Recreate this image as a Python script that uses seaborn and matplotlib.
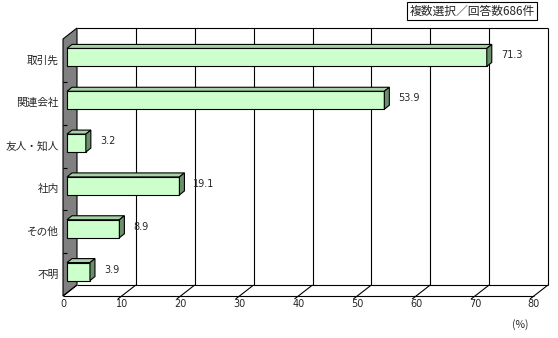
import numpy as np
import pandas as pd
import seaborn as sns
import matplotlib
matplotlib.use("Agg")
import matplotlib.pyplot as plt
from matplotlib.patches import Polygon
from matplotlib.transforms import offset_copy

categories = ['取引先', '関連会社', '友人・知人', '社内', 'その他', '不明']
values = [71.3, 53.9, 3.2, 19.1, 8.9, 3.9]
x_ticks = [0, 10, 20, 30, 40, 50, 60, 70, 80]
note = '複数選択／回答数686件'
unit = '(%)'

sns.set_style('white')
plt.rcParams['font.family'] = ['Noto Sans CJK JP', 'DejaVu Sans']

W, H = 558, 338
fig = plt.figure(figsize=(W / 100, H / 100), dpi=100)
fig.patch.set_facecolor('white')
ax_w, ax_h = 471, 257
ax = fig.add_axes([63 / W, (H - 296) / H, ax_w / W, ax_h / H])

df = pd.DataFrame({'cat': categories, 'val': values})
sns.barplot(data=df, x='val', y='cat', orient='h', color='#ccffcc', saturation=1,
            width=0.42, edgecolor='black', linewidth=0.8, ax=ax)
ax.set_xlim(0, 80)
ax.set_ylim(5.5, -0.5)
ax.axis('off')

sx = 80 / ax_w
sy = 6 / ax_h
DX, DY = 14, 11  # depth offset of back plane, px


def off(x, y, dx, dy):
    return (x + dx * sx, y - dy * sy)


line_kw = dict(color='black', lw=0.8, clip_on=False, solid_capstyle='butt')

# left wall
wall = Polygon([(0, -0.5), (0, 5.5), off(0, 5.5, DX, DY), off(0, -0.5, DX, DY)],
               closed=True, facecolor='#808080', edgecolor='black', lw=0.8,
               zorder=1.5, clip_on=False)
ax.add_patch(wall)

# back gridlines
for t in x_ticks[1:]:
    x0, y0 = off(t, -0.5, DX, DY)
    x1, y1 = off(t, 5.5, DX, DY)
    ax.plot([x0, x1], [y0, y1], zorder=1, **line_kw)
# top back line
a = off(0, -0.5, DX, DY); b = off(80, -0.5, DX, DY)
ax.plot([a[0], b[0]], [a[1], b[1]], zorder=1, **line_kw)
# floor
a = off(0, 5.5, DX, DY); b = off(80, 5.5, DX, DY)
ax.plot([a[0], b[0]], [a[1], b[1]], zorder=1, **line_kw)
ax.plot([0, 80], [5.5, 5.5], zorder=2, **line_kw)
for t in x_ticks:
    s = off(t, 5.5, -4 if t > 0 else 0, -3 if t > 0 else 0)
    e = off(t, 5.5, DX, DY)
    ax.plot([s[0], e[0]], [s[1], e[1]], zorder=2, **line_kw)

# category boundary ticks
for bnd in np.arange(0.5, 5.5, 1.0):
    ax.plot([0, 4 * sx], [bnd, bnd], zorder=2, **line_kw)

# 3D bars
tr_bar = offset_copy(ax.transData, fig=fig, x=4, y=3, units='dots')
ddx, ddy = 5 * sx, 4 * sy
for p in list(ax.patches):
    if p is wall:
        continue
    p.set_transform(tr_bar)
    p.set_zorder(3)
    p.set_clip_on(False)
    x0, y0, w, h = p.get_x(), p.get_y(), p.get_width(), p.get_height()
    top = Polygon([(x0, y0), (x0 + w, y0), (x0 + w + ddx, y0 - ddy), (x0 + ddx, y0 - ddy)],
                  closed=True, facecolor='#a6d2a6', edgecolor='black', lw=0.8,
                  transform=tr_bar, zorder=3, clip_on=False)
    side = Polygon([(x0 + w, y0), (x0 + w, y0 + h), (x0 + w + ddx, y0 + h - ddy),
                    (x0 + w + ddx, y0 - ddy)],
                   closed=True, facecolor='#6b8f6b', edgecolor='black', lw=0.8,
                   transform=tr_bar, zorder=3, clip_on=False)
    ax.add_patch(top)
    ax.add_patch(side)

# value labels
for i, v in enumerate(values):
    ax.text(v + 18 * sx, i - 5 * sy, f'{v}', ha='left', va='center', fontsize=7,
            family='DejaVu Sans', zorder=4)

# category labels
for i, c in enumerate(categories):
    ax.text(-4 * sx, i, c, ha='right', va='center', fontsize=7.7)

# x tick labels
for t in x_ticks:
    ax.text(t, 5.5 + 8 * sy, str(t), ha='center', va='center', fontsize=7,
            family='DejaVu Sans')

fig.text(520 / W, 1 - 325 / H, unit, ha='center', va='center', fontsize=7.5)
fig.text(472 / W, 1 - 11 / H, note, ha='center', va='center', fontsize=8.5,
         bbox=dict(boxstyle='square,pad=0.2', fc='white', ec='black', lw=0.8))

fig.savefig('out.png', dpi=100, facecolor='white')
